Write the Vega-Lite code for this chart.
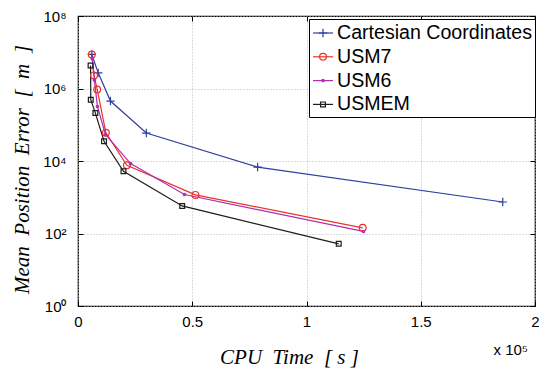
{
  "$schema": "https://vega.github.io/schema/vega-lite/v6.json",
  "width": 457,
  "height": 290,
  "autosize": {"type": "none"},
  "padding": {"left": 78, "top": 16, "right": 6, "bottom": 66},
  "config": {
    "view": {"stroke": "#000", "strokeWidth": 1.2},
    "background": "#ffffff"
  },
  "data": {
    "values": [
      {"series": "Cartesian Coordinates", "cpu": 6040, "err": 8700000},
      {"series": "Cartesian Coordinates", "cpu": 8840, "err": 2700000},
      {"series": "Cartesian Coordinates", "cpu": 14200, "err": 450000},
      {"series": "Cartesian Coordinates", "cpu": 29900, "err": 59000},
      {"series": "Cartesian Coordinates", "cpu": 78600, "err": 6800},
      {"series": "Cartesian Coordinates", "cpu": 185900, "err": 740},
      {"series": "USM7", "cpu": 6040, "err": 8700000},
      {"series": "USM7", "cpu": 7000, "err": 2300000},
      {"series": "USM7", "cpu": 8400, "err": 940000},
      {"series": "USM7", "cpu": 12200, "err": 60000},
      {"series": "USM7", "cpu": 21400, "err": 7600},
      {"series": "USM7", "cpu": 51400, "err": 1160},
      {"series": "USM7", "cpu": 124600, "err": 143},
      {"series": "USM6", "cpu": 6200, "err": 6700000},
      {"series": "USM6", "cpu": 7200, "err": 1700000},
      {"series": "USM6", "cpu": 8500, "err": 320000},
      {"series": "USM6", "cpu": 12000, "err": 54000},
      {"series": "USM6", "cpu": 23000, "err": 8500},
      {"series": "USM6", "cpu": 46600, "err": 1190},
      {"series": "USM6", "cpu": 124900, "err": 114},
      {"series": "USMEM", "cpu": 5500, "err": 4300000},
      {"series": "USMEM", "cpu": 5600, "err": 490000},
      {"series": "USMEM", "cpu": 7600, "err": 210000},
      {"series": "USMEM", "cpu": 11400, "err": 35000},
      {"series": "USMEM", "cpu": 19900, "err": 5200},
      {"series": "USMEM", "cpu": 45600, "err": 576},
      {"series": "USMEM", "cpu": 114100, "err": 52}
    ]
  },
  "layer": [
    {
      "mark": {"type": "line", "strokeWidth": 1.2},
      "encoding": {
        "x": {
          "field": "cpu", "type": "quantitative",
          "scale": {"domain": [0, 200000], "nice": false, "zero": false},
          "axis": {
            "orient": "bottom",
            "values": [0, 50000, 100000, 150000, 200000],
            "labelExpr": "datum.value / 100000",
            "grid": true, "gridColor": "#b8b8b8", "gridDash": [1, 2], "gridWidth": 1,
            "ticks": true, "tickSize": -5, "tickColor": "#000", "tickWidth": 1,
            "domain": false,
            "labelFont": "Liberation Sans", "labelFontSize": 15, "labelColor": "#000", "labelPadding": 13,
            "labelFlush": false,
            "title": "CPU\u00a0\u00a0Time\u00a0\u00a0[\u00a0s\u00a0]",
            "titleFont": "Liberation Serif", "titleFontStyle": "italic", "titleFontWeight": "normal",
            "titleFontSize": 21, "titleColor": "#000",
            "titleX": 211, "titleY": 57, "titleAlign": "center", "titleBaseline": "alphabetic"
          }
        },
        "y": {
          "field": "err", "type": "quantitative",
          "scale": {"type": "log", "domain": [1, 100000000], "nice": false},
          "axis": {
            "orient": "left",
            "values": [1, 100, 10000, 1000000, 100000000],
            "labelExpr": "'10' + ['⁰','¹','²','³','⁴','⁵','⁶','⁷','⁸'][round(log(datum.value) / LN10)]",
            "grid": true, "gridColor": "#b8b8b8", "gridDash": [1, 2], "gridWidth": 1,
            "ticks": true, "tickSize": -5, "tickColor": "#000", "tickWidth": 1,
            "domain": false,
            "labelFont": "Liberation Sans", "labelFontSize": 15, "labelColor": "#000", "labelPadding": 17,
            "labelFlush": false,
            "title": "Mean\u00a0\u00a0Position\u00a0\u00a0Error\u00a0\u00a0[\u00a0\u00a0m\u00a0\u00a0]",
            "titleFont": "Liberation Serif", "titleFontStyle": "italic", "titleFontWeight": "normal",
            "titleFontSize": 21, "titleColor": "#000",
            "titleX": -56, "titleY": 153, "titleAngle": -90, "titleAlign": "center", "titleBaseline": "middle"
          }
        },
        "color": {
          "field": "series", "type": "nominal",
          "sort": ["Cartesian Coordinates", "USM7", "USM6", "USMEM"],
          "scale": {"range": ["#2f3f9f", "#e8332c", "#b02cb0", "#1c1c1c"]},
          "legend": {
            "title": null, "orient": "none", "legendX": 231, "legendY": 3,
            "symbolType": "stroke", "symbolSize": 400, "symbolStrokeWidth": 1.2,
            "labelFont": "Liberation Sans", "labelFontSize": 19.6, "labelColor": "#000",
            "labelOffset": 3, "labelLimit": 400, "padding": 3, "rowPadding": 2.8,
            "strokeColor": "#000", "fillColor": "#ffffff", "zindex": 1
          }
        }
      }
    },
    {
      "mark": {"type": "point", "filled": false, "size": 400, "strokeWidth": 1.2, "opacity": 1},
      "encoding": {
        "x": {
          "field": "cpu", "type": "quantitative",
          "axis": {
            "orient": "top",
            "values": [0, 50000, 100000, 150000, 200000],
            "grid": false, "labels": false, "domain": false,
            "ticks": true, "tickSize": -5, "tickColor": "#000", "tickWidth": 1,
            "title": "x 10⁵",
            "titleFont": "Liberation Sans", "titleFontWeight": "normal", "titleFontSize": 15, "titleColor": "#000",
            "titleX": 415, "titleY": 338, "titleAlign": "left", "titleBaseline": "alphabetic", "titleAngle": 0
          }
        },
        "y": {
          "field": "err", "type": "quantitative",
          "axis": {
            "orient": "right",
            "values": [1, 100, 10000, 1000000, 100000000],
            "grid": false, "labels": false, "domain": false,
            "ticks": true, "tickSize": -5, "tickColor": "#000", "tickWidth": 1,
            "title": null
          }
        },
        "stroke": {
          "field": "series", "type": "nominal",
          "scale": {
            "domain": ["Cartesian Coordinates", "USM7", "USM6", "USMEM"],
            "range": ["#2f3f9f", "#e8332c", "#b02cb0", "#1c1c1c"]
          },
          "legend": {
            "title": null, "orient": "none", "legendX": 231, "legendY": 3,
            "symbolSize": 400, "symbolStrokeWidth": 1.2,
            "labelFont": "Liberation Sans", "labelFontSize": 19.6, "labelColor": "transparent",
            "labelOffset": 3, "labelLimit": 400, "padding": 3, "rowPadding": 2.8,
            "strokeColor": "transparent", "fillColor": "transparent", "zindex": 2
          }
        },
        "shape": {
          "field": "series", "type": "nominal",
          "scale": {
            "domain": ["Cartesian Coordinates", "USM7", "USM6", "USMEM"],
            "range": [
              "M-0.42,0H0.42M0,-0.42V0.42",
              "M0.34,0A0.34,0.34,0,1,1,-0.34,0A0.34,0.34,0,1,1,0.34,0Z",
              "M0.12,0A0.12,0.12,0,1,1,-0.12,0A0.12,0.12,0,1,1,0.12,0Z",
              "M-0.24,-0.24H0.24V0.24H-0.24Z"
            ]
          },
          "legend": {
            "title": null, "orient": "none", "legendX": 231, "legendY": 3,
            "symbolSize": 400, "symbolStrokeWidth": 1.2,
            "labelFont": "Liberation Sans", "labelFontSize": 19.6, "labelColor": "transparent",
            "labelOffset": 3, "labelLimit": 400, "padding": 3, "rowPadding": 2.8,
            "strokeColor": "transparent", "fillColor": "transparent", "zindex": 2
          }
        }
      }
    }
  ],
  "resolve": {"axis": {"x": "independent", "y": "independent"}}
}
